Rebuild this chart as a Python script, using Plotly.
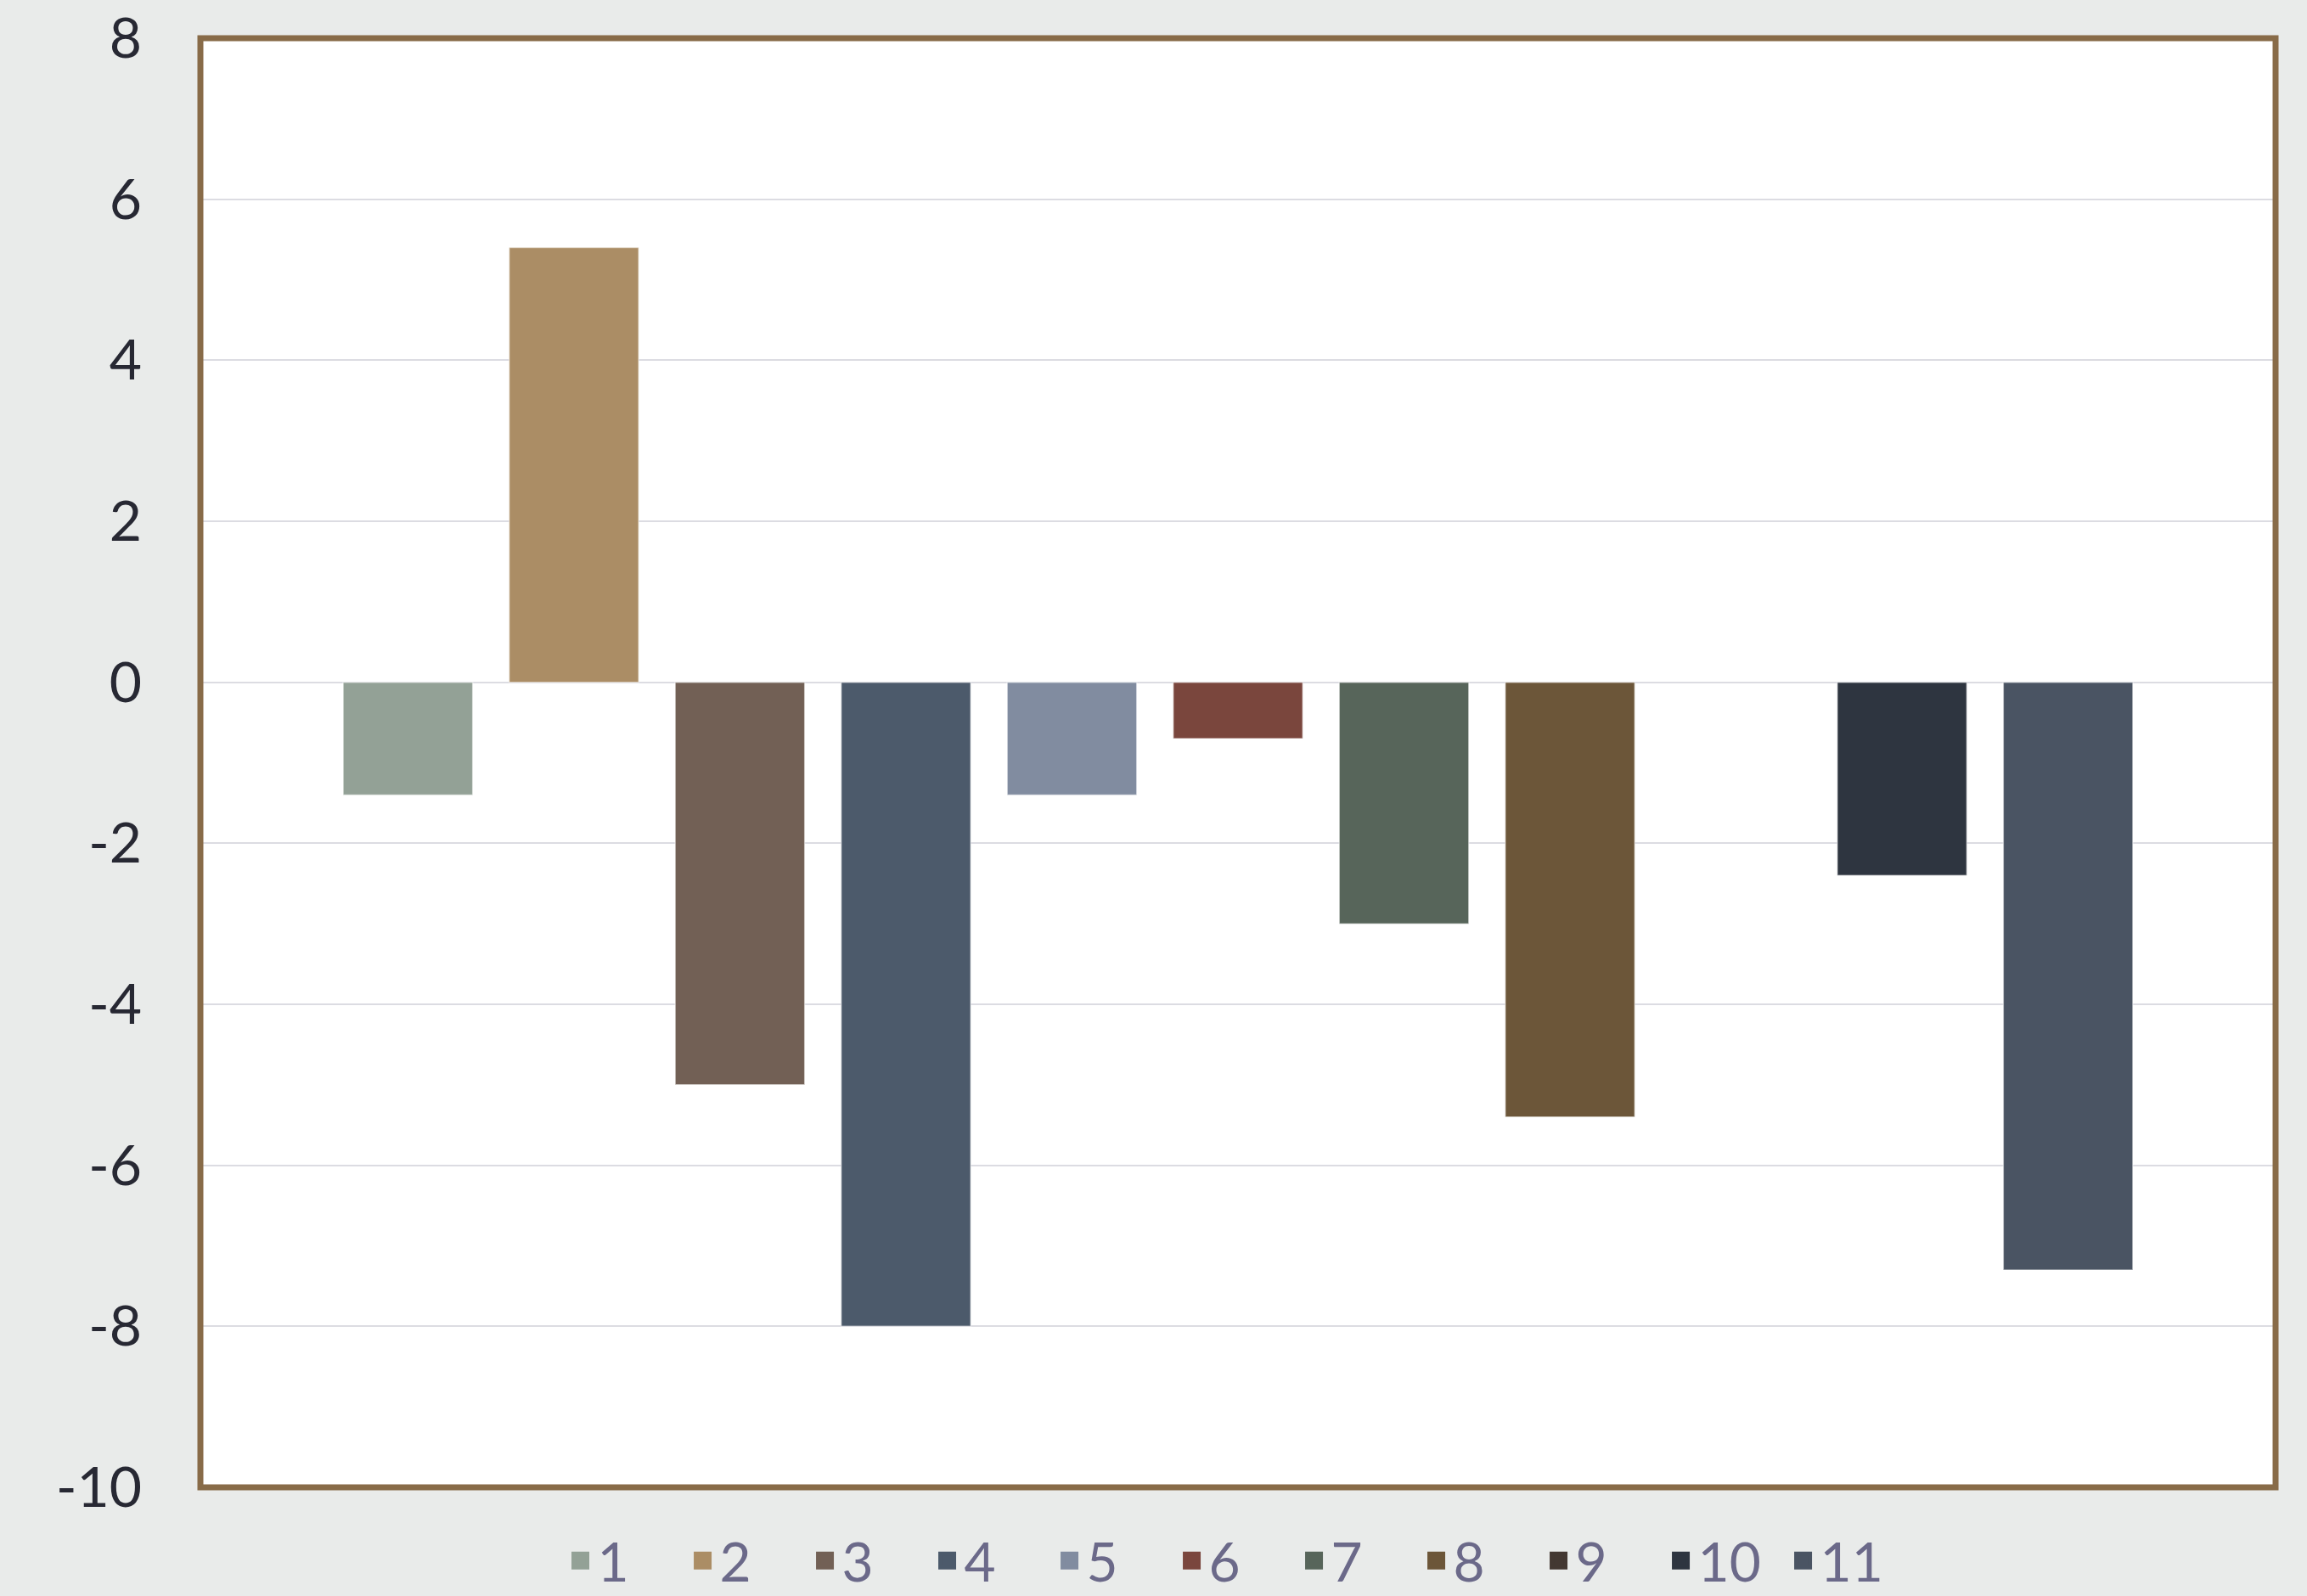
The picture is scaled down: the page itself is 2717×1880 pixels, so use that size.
import plotly.graph_objects as go

series_names = ["1", "2", "3", "4", "5", "6", "7", "8", "9", "10", "11"]
values = [-1.4, 5.4, -5.0, -8.0, -1.4, -0.7, -3.0, -5.4, None, -2.4, -7.3]
colors = ["#93a196", "#ab8d65", "#726055", "#4c5a6b", "#818ca0", "#7a463d",
          "#57655a", "#6c5639", "#433832", "#2e3540", "#4a5463"]
category = [0]
y_ticks = [-10, -8, -6, -4, -2, 0, 2, 4, 6, 8]

fig = go.Figure()
for name, v, c in zip(series_names, values, colors):
    fig.add_trace(go.Bar(
        x=category, y=[v], name=name, legendgroup=name, showlegend=False,
        marker=dict(color=c, line=dict(color="rgba(255,255,255,0.5)", width=1.5)),
    ))
# legend entries (larger square swatches than the bar legend symbol allows)
for name, c in zip(series_names, colors):
    fig.add_trace(go.Scatter(
        x=[None], y=[None], name=name, legendgroup=name, mode="markers",
        marker=dict(symbol="square", size=16, color=c, line=dict(color=c, width=5)),
        hoverinfo="skip",
    ))

fig.update_layout(
    width=2717, height=1880,
    margin=dict(l=236, r=37, t=45, b=128, pad=0, autoexpand=False),
    paper_bgcolor="#e9ebea",
    plot_bgcolor="#ffffff",
    barmode="group",
    bargap=0.12,
    bargroupgap=0.22,
    font=dict(family="Lato, sans-serif", size=66, color="#272833"),
    showlegend=True,
    legend=dict(
        orientation="h", x=0.499, xanchor="center",
        yref="container", y=0.022, yanchor="middle",
        font=dict(size=64, color="#6b6989"),
        bgcolor="rgba(0,0,0,0)",
        itemsizing="trace",
        entrywidth=99, entrywidthmode="pixels",
    ),
    xaxis=dict(visible=False, range=[-0.5, 0.5]),
    yaxis=dict(
        range=[-10, 8], tickvals=y_ticks, ticktext=[str(t) for t in y_ticks],
        showgrid=True, gridcolor="#dcdce2", gridwidth=2,
        zeroline=True, zerolinecolor="#dcdce2", zerolinewidth=2,
        showline=False, ticks="", ticklabelstandoff=68,
        tickfont=dict(size=66, color="#272833"),
    ),
    shapes=[dict(type="rect", xref="paper", yref="paper", x0=0, x1=1, y0=0, y1=1,
                 line=dict(color="#886b48", width=7), layer="above")],
)

fig.write_html("out.html")
